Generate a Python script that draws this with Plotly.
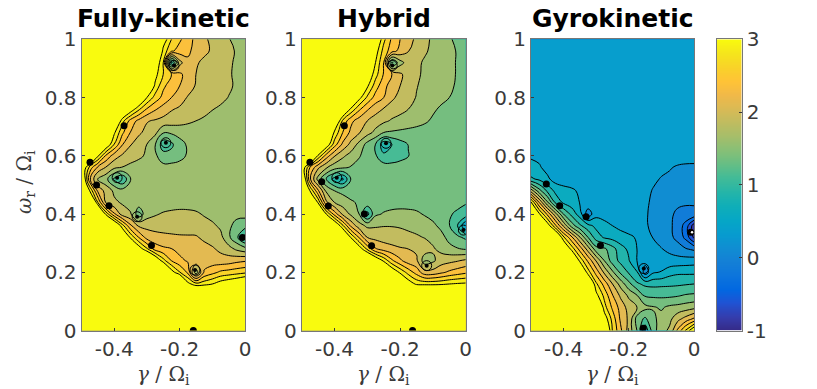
import plotly.graph_objects as go

# grid
x_vals = [-0.5,-0.475,-0.45,-0.425,-0.4,-0.375,-0.35,-0.325,-0.3,-0.275,-0.25,-0.225,-0.2,-0.175,-0.15,-0.125,-0.1,-0.075,-0.05,-0.025,0]
y_vals = [1,0.96,0.92,0.88,0.84,0.8,0.76,0.72,0.68,0.64,0.6,0.56,0.52,0.48,0.44,0.4,0.36,0.32,0.28,0.24,0.2,0.16,0.12,0.08,0.04,0]

z_full = [
[4,4,4,4,4,4,4,4,4,4,3.2,2.75,2.55,2.33,2.2,2.03,1.96,1.87,1.76,1.7,1.68],
[4,4,4,4,4,4,4,4,4,4,2.9,2.55,2.38,2.28,2.2,2.05,1.97,1.9,1.82,1.72,1.68],
[4,4,4,4,4,4,4,4,4,3.3,2.75,0.9,1.9,2.22,2.03,1.95,1.9,1.85,1.8,1.7,1.67],
[4,4,4,4,4,4,4,4,4,3.1,2.75,2.5,2.3,2.15,2.0,1.95,1.9,1.86,1.78,1.7,1.66],
[4,4,4,4,4,4,4,4,3.5,2.95,2.55,2.38,2.25,2.12,1.98,1.93,1.9,1.86,1.8,1.7,1.65],
[4,4,4,4,4,4,4,3.5,3.0,2.65,2.42,2.25,2.12,1.98,1.93,1.9,1.87,1.83,1.74,1.68,1.64],
[4,4,4,4,4,3.6,3.2,2.8,2.47,2.28,2.14,2.02,1.96,1.92,1.88,1.84,1.76,1.7,1.66,1.63,1.62],
[4,4,4,4,3.6,2.85,2.4,2.18,2.02,1.97,1.92,1.88,1.85,1.8,1.75,1.7,1.66,1.63,1.62,1.61,1.6],
[4,4,4,3.6,3.05,2.55,2.24,2.05,1.92,1.82,1.52,1.54,1.58,1.6,1.6,1.6,1.6,1.6,1.6,1.6,1.6],
[4,4,3.7,3.3,2.75,2.27,2.02,1.87,1.75,1.52,1.1,1.2,1.42,1.53,1.6,1.6,1.6,1.6,1.6,1.6,1.6],
[4,4,3.05,2.45,2.12,1.96,1.87,1.79,1.72,1.55,1.35,1.33,1.42,1.53,1.6,1.6,1.6,1.6,1.6,1.6,1.6],
[3.4,2.65,2.2,1.98,1.8,1.74,1.68,1.66,1.62,1.6,1.58,1.6,1.6,1.6,1.6,1.6,1.6,1.6,1.6,1.6,1.6],
[3.6,2.3,1.7,1.58,1.2,1.0,1.49,1.6,1.6,1.6,1.6,1.6,1.6,1.6,1.6,1.6,1.6,1.6,1.6,1.6,1.6],
[4,3.0,2.2,1.9,1.7,1.6,1.6,1.6,1.6,1.6,1.6,1.6,1.6,1.6,1.6,1.6,1.6,1.6,1.6,1.6,1.6],
[4,4,2.75,1.95,1.8,1.72,1.62,1.6,1.6,1.6,1.6,1.6,1.6,1.6,1.6,1.6,1.6,1.6,1.6,1.6,1.6],
[4,4,4,2.93,2.3,1.88,1.78,1.35,1.63,1.72,1.78,1.82,1.85,1.84,1.8,1.72,1.66,1.63,1.6,1.58,1.58],
[4,4,4,4,3.5,2.85,2.3,1.96,1.93,1.92,1.92,1.93,1.93,1.92,1.9,1.87,1.8,1.7,1.56,1.4,1.35],
[4,4,4,4,4,3.5,2.95,2.5,2.15,2.08,2.05,2.03,2.02,2.02,2.02,1.96,1.9,1.83,1.55,1.3,0.9],
[4,4,4,4,4,4,3.7,3.2,2.8,2.4,2.3,2.26,2.17,2.13,2.1,2.07,2.03,1.95,1.85,1.7,1.6],
[4,4,4,4,4,4,4,4,3.9,3.4,2.85,2.5,2.32,2.22,2.17,2.13,2.12,2.1,2.12,2.18,2.22],
[4,4,4,4,4,4,4,4,4,4,4,3.15,2.77,2.45,1.6,2.28,2.42,2.55,2.6,2.65,2.7],
[4,4,4,4,4,4,4,4,4,4,4,4,4,3.1,2.85,2.9,3.0,3.15,3.25,3.35,3.5],
[4,4,4,4,4,4,4,4,4,4,4,4,4,4,4,4,4,4,4,4,4],
[4,4,4,4,4,4,4,4,4,4,4,4,4,4,4,4,4,4,4,4,4],
[4,4,4,4,4,4,4,4,4,4,4,4,4,4,4,4,4,4,4,4,4],
[4,4,4,4,4,4,4,4,4,4,4,4,4,4,4,4,4,4,4,4,4],
]

z_hybrid = [
[4,4,4,4,4,4,4,4,4,3.4,2.82,2.45,2.25,2.09,1.95,1.81,1.71,1.62,1.52,1.46,1.43],
[4,4,4,4,4,4,4,4,3.7,3.15,2.65,2.36,2.17,2.01,1.88,1.78,1.7,1.63,1.57,1.48,1.43],
[4,4,4,4,4,4,4,4,3.5,3.0,2.5,1.2,1.65,1.88,1.8,1.72,1.67,1.62,1.56,1.48,1.43],
[4,4,4,4,4,4,4,4,3.3,2.85,2.48,2.25,2.04,1.9,1.78,1.72,1.66,1.6,1.56,1.48,1.43],
[4,4,4,4,4,4,4,3.4,3.05,2.62,2.33,2.13,2.0,1.87,1.76,1.7,1.64,1.6,1.54,1.47,1.42],
[4,4,4,4,4,4,3.5,3.1,2.7,2.4,2.25,2.05,1.92,1.82,1.74,1.67,1.6,1.55,1.5,1.45,1.41],
[4,4,4,4,4,3.5,2.95,2.55,2.28,2.1,1.98,1.88,1.82,1.75,1.68,1.62,1.53,1.47,1.43,1.41,1.4],
[4,4,4,4,3.5,2.7,2.32,2.13,2.0,1.88,1.8,1.72,1.67,1.63,1.58,1.53,1.47,1.43,1.41,1.4,1.4],
[4,4,4,3.5,2.95,2.5,2.18,2.02,1.85,1.68,1.5,1.47,1.45,1.43,1.42,1.41,1.4,1.4,1.4,1.4,1.4],
[4,4,3.7,3.25,2.63,2.2,1.93,1.68,1.42,1.25,0.85,1.0,1.15,1.26,1.38,1.4,1.4,1.4,1.4,1.4,1.4],
[4,4,2.95,2.38,2.02,1.8,1.65,1.52,1.4,1.28,1.05,1.05,1.15,1.24,1.36,1.4,1.4,1.4,1.4,1.4,1.4],
[3.3,2.5,2.05,1.78,1.6,1.54,1.48,1.42,1.4,1.38,1.38,1.38,1.38,1.4,1.4,1.4,1.4,1.4,1.4,1.4,1.4],
[3.6,2.3,1.65,1.22,0.9,0.7,1.26,1.38,1.4,1.4,1.4,1.4,1.4,1.4,1.4,1.4,1.4,1.4,1.4,1.4,1.4],
[4,3.0,2.3,1.7,1.5,1.44,1.4,1.4,1.4,1.4,1.4,1.4,1.4,1.4,1.4,1.4,1.4,1.4,1.4,1.4,1.4],
[4,4,2.95,2.05,1.75,1.62,1.53,1.47,1.42,1.4,1.4,1.4,1.4,1.4,1.4,1.4,1.4,1.4,1.38,1.33,1.27],
[4,4,4,3.0,2.4,1.95,1.7,1.5,0.9,1.46,1.52,1.56,1.58,1.57,1.54,1.48,1.42,1.38,1.28,1.2,1.15],
[4,4,4,4,3.4,2.8,2.2,1.85,1.7,1.72,1.74,1.74,1.73,1.7,1.67,1.62,1.55,1.44,1.26,1.0,0.5],
[4,4,4,4,4,3.6,2.98,2.48,2.0,1.92,1.88,1.86,1.83,1.81,1.78,1.74,1.68,1.58,1.42,1.3,1.2],
[4,4,4,4,4,4,3.7,3.2,2.7,2.28,2.15,2.08,2.03,2.0,1.95,1.87,1.78,1.68,1.58,1.52,1.48],
[4,4,4,4,4,4,4,4,3.8,3.35,2.95,2.55,2.3,2.12,2.05,1.6,1.7,1.88,1.93,1.98,2.05],
[4,4,4,4,4,4,4,4,4,4,3.7,3.3,2.95,2.65,2.4,2.1,2.1,2.2,2.3,2.38,2.45],
[4,4,4,4,4,4,4,4,4,4,4,4,3.6,3.2,2.95,2.93,2.93,2.95,3.0,3.03,3.05],
[4,4,4,4,4,4,4,4,4,4,4,4,4,4,4,4,4,4,4,4,4],
[4,4,4,4,4,4,4,4,4,4,4,4,4,4,4,4,4,4,4,4,4],
[4,4,4,4,4,4,4,4,4,4,4,4,4,4,4,4,4,4,4,4,4],
[4,4,4,4,4,4,4,4,4,4,4,4,4,4,4,4,4,4,4,4,4],
]

z_gyro = [
[0.4,0.4,0.4,0.4,0.4,0.4,0.4,0.4,0.4,0.4,0.4,0.4,0.4,0.4,0.4,0.4,0.4,0.4,0.4,0.4,0.4],
[0.4,0.4,0.4,0.4,0.4,0.4,0.4,0.4,0.4,0.4,0.4,0.4,0.4,0.4,0.4,0.4,0.4,0.4,0.4,0.4,0.4],
[0.4,0.4,0.4,0.4,0.4,0.4,0.4,0.4,0.4,0.4,0.4,0.4,0.4,0.4,0.4,0.4,0.4,0.4,0.4,0.4,0.4],
[0.4,0.4,0.4,0.4,0.4,0.4,0.4,0.4,0.4,0.4,0.4,0.4,0.4,0.4,0.4,0.4,0.4,0.4,0.4,0.4,0.4],
[0.4,0.4,0.4,0.4,0.4,0.4,0.4,0.4,0.4,0.4,0.4,0.4,0.4,0.4,0.4,0.4,0.4,0.4,0.4,0.4,0.4],
[0.4,0.4,0.4,0.4,0.4,0.4,0.4,0.4,0.4,0.4,0.4,0.4,0.4,0.4,0.4,0.4,0.4,0.4,0.4,0.4,0.4],
[0.4,0.4,0.4,0.4,0.4,0.4,0.4,0.4,0.4,0.4,0.4,0.4,0.4,0.4,0.4,0.4,0.4,0.4,0.4,0.4,0.4],
[0.4,0.4,0.4,0.4,0.4,0.4,0.4,0.4,0.4,0.4,0.4,0.4,0.4,0.4,0.4,0.4,0.4,0.4,0.4,0.4,0.4],
[0.4,0.4,0.4,0.4,0.4,0.4,0.4,0.4,0.4,0.4,0.4,0.4,0.4,0.4,0.4,0.4,0.4,0.4,0.4,0.4,0.4],
[0.4,0.4,0.4,0.4,0.4,0.4,0.4,0.4,0.4,0.4,0.4,0.4,0.4,0.4,0.4,0.4,0.4,0.4,0.4,0.4,0.4],
[0.48,0.44,0.4,0.4,0.4,0.4,0.4,0.4,0.4,0.4,0.4,0.4,0.4,0.4,0.4,0.4,0.4,0.38,0.37,0.36,0.35],
[0.55,0.53,0.42,0.4,0.4,0.4,0.4,0.4,0.4,0.4,0.4,0.4,0.4,0.4,0.4,0.37,0.32,0.27,0.22,0.2,0.2],
[0.8,0.7,0.55,0.4,0.4,0.4,0.4,0.4,0.4,0.4,0.4,0.4,0.4,0.4,0.37,0.3,0.23,0.2,0.17,0.15,0.15],
[1.9,1.35,0.95,0.68,0.57,0.53,0.47,0.4,0.4,0.4,0.4,0.4,0.4,0.38,0.33,0.23,0.18,0.15,0.12,0.1,0.09],
[3.05,2.25,1.55,0.95,0.7,0.6,0.49,0.43,0.4,0.4,0.4,0.4,0.4,0.38,0.3,0.2,0.15,0.12,0.06,0.03,0.02],
[4,3.05,2.45,1.85,1.25,0.92,0.62,0.1,0.42,0.4,0.4,0.4,0.4,0.38,0.28,0.19,0.13,0.06,-0.06,-0.08,-0.05],
[4,4,3.2,2.55,1.95,1.38,1.05,0.83,0.68,0.58,0.5,0.43,0.4,0.38,0.29,0.18,0.15,0.05,-0.1,-0.35,-0.9],
[4,4,4,3.6,2.8,2.3,1.77,1.25,0.88,0.72,0.66,0.6,0.54,0.48,0.34,0.24,0.17,0.07,-0.08,-0.32,-0.8],
[4,4,4,4,3.5,2.9,2.4,1.88,1.35,1.3,1.1,0.85,0.7,0.5,0.38,0.33,0.26,0.2,0.12,0.02,-0.05],
[4,4,4,4,4,3.7,2.93,2.45,1.98,1.5,1.13,0.93,0.77,0.5,0.35,0.33,0.33,0.33,0.34,0.36,0.38],
[4,4,4,4,4,4,3.6,2.87,2.4,1.95,1.55,1.2,0.97,0.78,0.1,0.47,0.52,0.65,0.7,0.7,0.7],
[4,4,4,4,4,4,4,3.6,2.8,2.4,2.0,1.65,1.33,1.04,0.95,0.93,0.94,0.95,0.96,0.98,1.0],
[4,4,4,4,4,4,4,4,3.1,2.68,2.27,1.95,1.7,1.52,1.22,1.2,1.2,1.2,1.23,1.28,1.3],
[4,4,4,4,4,4,4,4,3.8,2.85,2.45,2.15,1.9,1.75,1.58,1.52,1.47,1.55,1.58,1.62,1.67],
[4,4,4,4,4,4,4,4,4,3.2,2.65,2.2,1.95,1.4,1.2,1.45,1.58,1.68,1.92,2.1,2.3],
[4,4,4,4,4,4,4,4,4,3.6,2.73,2.3,1.9,1.5,0.8,1.4,1.65,1.8,2.3,2.8,3.3],
]

# poles seen in each panel: solid black ones, and small spirals
full_dark_x = [-0.37,-0.474,-0.454,-0.416,-0.286,-0.008,-0.158]
full_dark_y = [0.703,0.578,0.5,0.429,0.292,0.32,0]
full_ring_x = [-0.217,-0.242,-0.391,-0.33,-0.153]
full_ring_y = [0.91,0.645,0.525,0.391,0.208]

hybrid_dark_x = [-0.37,-0.475,-0.439,-0.419,-0.309,-0.287,-0.162]
hybrid_dark_y = [0.703,0.578,0.511,0.428,0.4,0.291,0]
hybrid_ring_x = [-0.224,-0.243,-0.393,-0.119,-0.007]
hybrid_ring_y = [0.91,0.643,0.525,0.223,0.345]

gyro_dark_x = [-0.453,-0.412,-0.331,-0.287,-0.01,-0.156]
gyro_dark_y = [0.503,0.429,0.391,0.292,0.3375,0.008]
gyro_ring_x = [-0.154]
gyro_ring_y = [0.213]
gyro_centre_x = [-0.006]
gyro_centre_y = [0.3375]

titles = ["Fully-kinetic", "Hybrid", "Gyrokinetic"]
x_ticks = [-0.4, -0.2, 0]
x_tick_text = ["-0.4", "-0.2", "0"]
y_ticks = [0, 0.2, 0.4, 0.6, 0.8, 1]
y_tick_text = ["0", "0.2", "0.4", "0.6", "0.8", "1"]
bar_ticks = [-1, 0, 1, 2, 3]
bar_tick_text = ["-1", "0", "1", "2", "3"]
bar_levels = [-1,-0.9,-0.8,-0.7,-0.6,-0.5,-0.4,-0.3,-0.2,-0.1,0,0.1,0.2,0.3,0.4,0.5,0.6,0.7,0.8,0.9,1,1.1,1.2,1.3,1.4,1.5,1.6,1.7,1.8,1.9,2,2.1,2.2,2.3,2.4,2.5,2.6,2.7,2.8,2.9,3]

parula = ["#352A87","#353DAD","#2053D4","#0268E1","#0D75DC","#1480D6","#108ED2","#079CCF",
          "#06A7C6","#0FAEB9","#25B5A9","#42BB98","#65BE86","#87BF77","#A5BE6B","#C0BC60",
          "#D9BA56","#F1B949","#FFC337","#F9D329","#F5E51D","#F9FB0E"]
colorscale = [[i / (len(parula) - 1), c] for i, c in enumerate(parula)]

W, H = 817, 389
panels_px = [(81.5, 245), (301.7, 465.7), (531, 694)]
top_px, bottom_px = 39.3, 330.6
ink = "#3a3a3a"
frame = "#777777"

fig = go.Figure()

panel_data = [
    (z_full, full_dark_x, full_dark_y, full_ring_x, full_ring_y),
    (z_hybrid, hybrid_dark_x, hybrid_dark_y, hybrid_ring_x, hybrid_ring_y),
    (z_gyro, gyro_dark_x, gyro_dark_y, gyro_ring_x, gyro_ring_y),
]

axis = dict(automargin=False, ticks="inside", ticklen=3, tickwidth=1, tickcolor=ink, showline=True, mirror=True,
            linecolor=frame, linewidth=1, showgrid=False, zeroline=False,
            tickfont=dict(family="DejaVu Sans", size=20, color=ink))
y_domain = [1 - bottom_px / H, 1 - top_px / H]

for i, (z, dx, dy, rx, ry) in enumerate(panel_data):
    n = "" if i == 0 else str(i + 1)
    xa, ya = "x" + n, "y" + n
    fig.add_trace(go.Contour(
        x=x_vals, y=y_vals, z=z, xaxis=xa, yaxis=ya,
        colorscale=colorscale, zmin=-1, zmax=3, showscale=False, hoverinfo="skip",
        contours=dict(coloring="fill", start=-1, end=3, size=0.25),
        line=dict(color="black", width=1, smoothing=1.2),
    ))
    fig.add_trace(go.Scatter(x=rx, y=ry, mode="markers", xaxis=xa, yaxis=ya, showlegend=False,
                             marker=dict(symbol="circle-open", size=10, color="black", line=dict(width=1))))
    fig.add_trace(go.Scatter(x=rx, y=ry, mode="markers", xaxis=xa, yaxis=ya, showlegend=False,
                             marker=dict(size=4, color="black")))
    fig.add_trace(go.Scatter(x=dx, y=dy, mode="markers", xaxis=xa, yaxis=ya, showlegend=False,
                             marker=dict(size=7, color="black")))

    left, right = panels_px[i]
    fig.update_layout({
        "xaxis" + n: dict(axis, domain=[left / W, right / W], range=[-0.5, 0], anchor=ya,
                          tickvals=x_ticks, ticktext=x_tick_text),
        "yaxis" + n: dict(axis, domain=y_domain, range=[0, 1], anchor=xa,
                          tickvals=y_ticks, ticktext=y_tick_text),
    })
    center = (left + right) / 2 / W
    fig.add_annotation(text="<b>" + titles[i] + "</b>", xref="paper", yref="paper", x=center, y=1 - 18 / H,
                       xanchor="center", yanchor="middle", showarrow=False,
                       font=dict(family="DejaVu Sans", size=25, color="black"))
    fig.add_annotation(text="<i>γ</i> / Ω<sub>i</sub>", xref="paper", yref="paper", x=center, y=1 - 375 / H,
                       xanchor="center", yanchor="middle", showarrow=False,
                       font=dict(family="DejaVu Serif", size=20, color=ink))

fig.add_trace(go.Scatter(x=gyro_centre_x, y=gyro_centre_y, mode="markers", xaxis="x3", yaxis="y3", showlegend=False,
                         marker=dict(size=2.5, color="white")))

fig.add_annotation(text="<i>ω</i><sub>r</sub> / Ω<sub>i</sub>", xref="paper", yref="paper", x=25 / W,
                   y=1 - 182 / H, xanchor="center", yanchor="middle", textangle=-90, showarrow=False,
                   font=dict(family="DejaVu Serif", size=20, color=ink))

# colour bar as a small heatmap panel
fig.add_trace(go.Heatmap(
    x=[0, 1], y=bar_levels, z=[[v, v] for v in bar_levels], xaxis="x4", yaxis="y4",
    colorscale=colorscale, zmin=-1, zmax=3, showscale=False, zsmooth="best", hoverinfo="skip",
))
fig.update_layout(
    xaxis4=dict(automargin=False, domain=[716.7 / W, 741.7 / W], range=[0, 1], anchor="y4", showticklabels=False, ticks="",
                showline=True, mirror=True, linecolor=frame, showgrid=False, zeroline=False),
    yaxis4=dict(axis, domain=y_domain, range=[-1, 3], anchor="x4", side="right",
                tickvals=bar_ticks, ticktext=bar_tick_text),
)

fig.update_layout(width=W, height=H, autosize=False, margin=dict(l=0, r=0, t=0, b=0),
                  paper_bgcolor="white", plot_bgcolor="white", showlegend=False)

fig.write_html("out.html", config={"displayModeBar": False}, post_script="document.body.style.margin = '0';")
